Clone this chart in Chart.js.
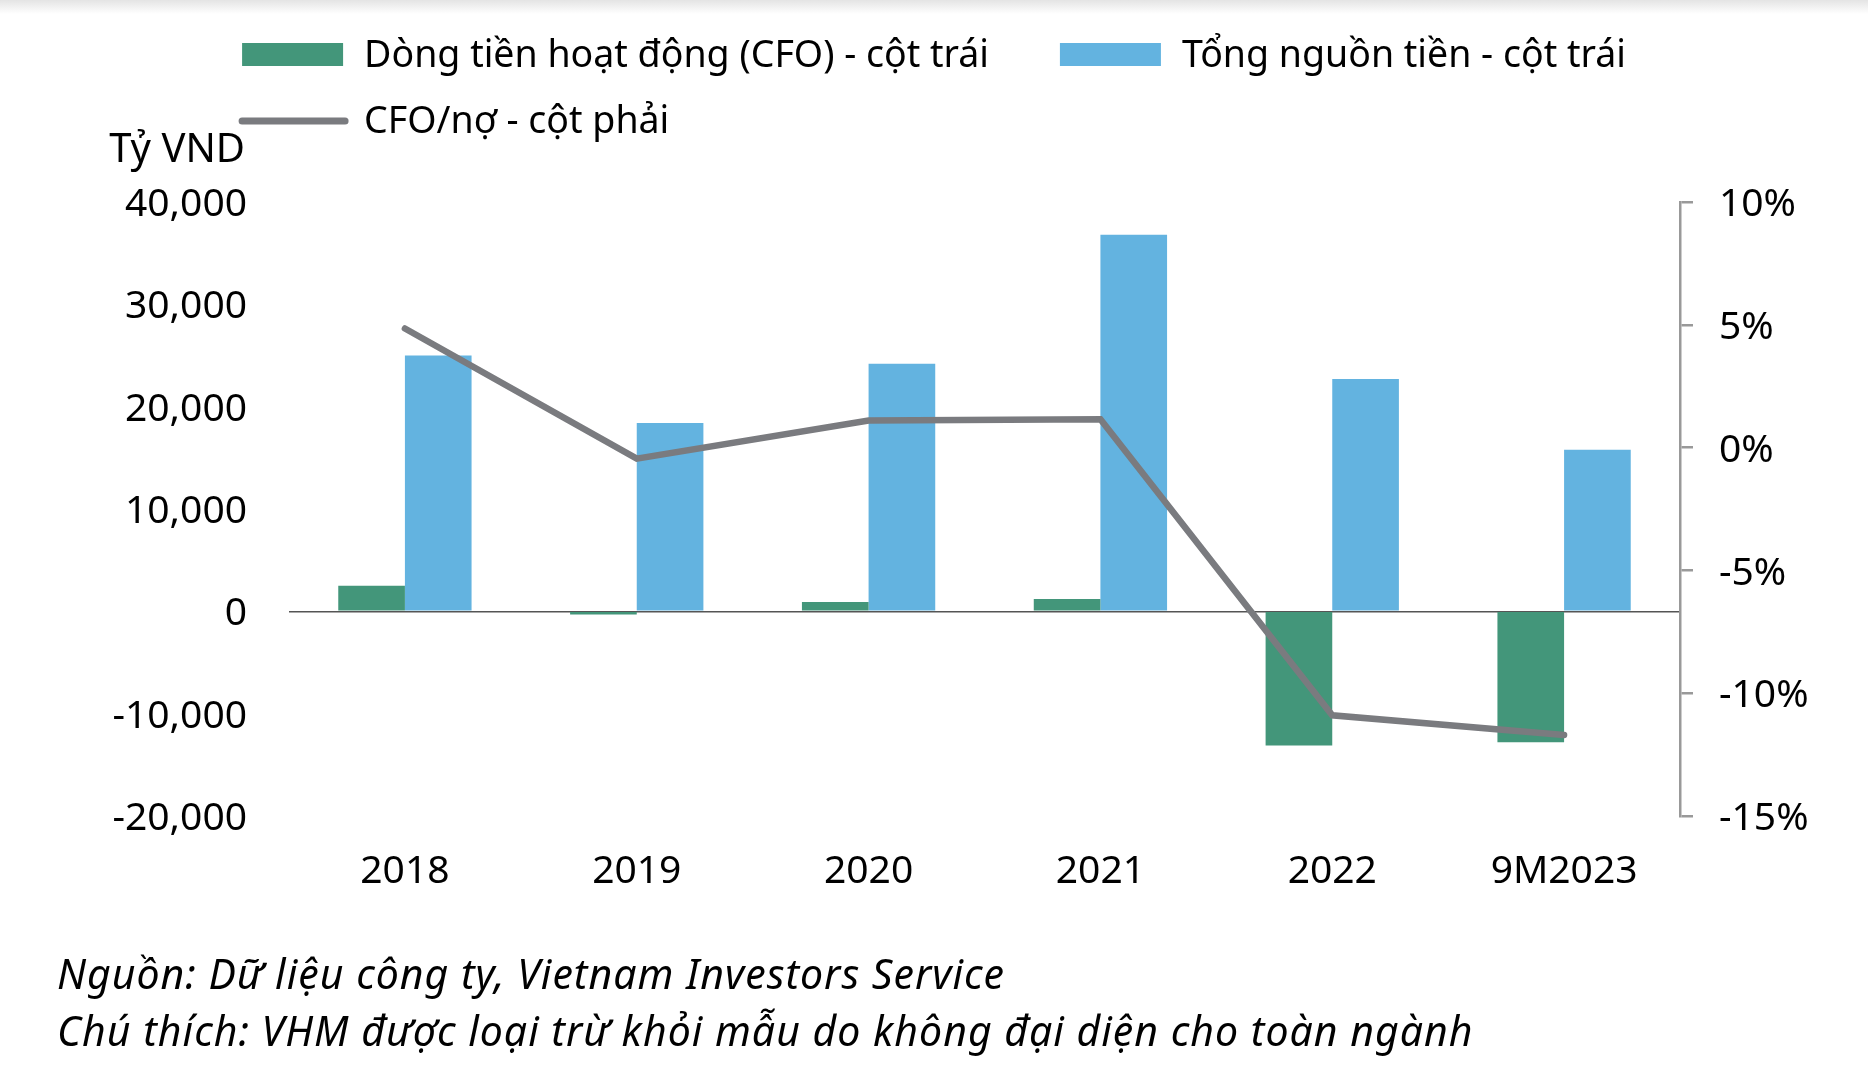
<!DOCTYPE html>
<html>
<head>
<meta charset="utf-8">
<script src="https://cdn.jsdelivr.net/npm/chart.js@4.4.1/dist/chart.umd.min.js"></script>
<style>
  html, body { margin: 0; padding: 0; }
  body {
    width: 1868px; height: 1072px; overflow: hidden; position: relative;
    background: linear-gradient(#e4e4e4 0px, #ffffff 14px);
    font-family: "Noto Sans", sans-serif;
  }
  #chart { position: absolute; left: 0; top: 0; }
  .note {
    position: absolute; left: 57px; font-style: italic; font-size: 41px;
    letter-spacing: 1px; line-height: 57px; color: #000; white-space: nowrap;
  }
</style>
</head>
<body>
<canvas id="chart" width="1868" height="1072"></canvas>
<div class="note" style="top: 945px;">Nguồn: Dữ liệu công ty, Vietnam Investors Service</div>
<div class="note" style="top: 1002px;">Chú thích: VHM được loại trừ khỏi mẫu do không đại diện cho toàn ngành</div>
<script>
const years = ["2018", "2019", "2020", "2021", "2022", "9M2023"];
// tỷ VND
const cfo = [2500, -300, 900, 1200, -13100, -12800];
const totalFunds = [25000, 18400, 24200, 36800, 22700, 15800];
// %
const cfoToDebt = [4.85, -0.45, 1.1, 1.15, -10.9, -11.7];

const GREEN = "#43967a";
const BLUE = "#63b3e0";
const GREY = "#7a7b7f";
const FONT = "Noto Sans";

// legend in two rows: second row starts under the first one
const rowLegend = {
  id: "rowLegend",
  afterDraw(chart) {
    const ctx = chart.ctx;
    const ds = chart.data.datasets;
    const box = 101, gap = 21, itemGap = 71;
    ctx.save();
    ctx.font = "37.5px '" + FONT + "'";
    ctx.textBaseline = "alphabetic";
    ctx.fillStyle = "#000";
    const itemW = (i) => box + gap + ctx.measureText(ds[i].label).width;
    const x0 = (chart.width - (itemW(0) + itemGap + itemW(1))) / 2;
    // row 1
    ctx.fillStyle = ds[0].backgroundColor;
    ctx.fillRect(x0, 43, box, 23);
    ctx.fillStyle = "#000";
    ctx.fillText(ds[0].label, x0 + box + gap, 67);
    const x1 = x0 + itemW(0) + itemGap;
    ctx.fillStyle = ds[1].backgroundColor;
    ctx.fillRect(x1, 43, box, 23);
    ctx.fillStyle = "#000";
    ctx.fillText(ds[1].label, x1 + box + gap, 67);
    // row 2
    ctx.strokeStyle = ds[2].borderColor;
    ctx.lineWidth = 7;
    ctx.lineCap = "round";
    ctx.beginPath();
    ctx.moveTo(x0, 121);
    ctx.lineTo(x0 + 103, 121);
    ctx.stroke();
    ctx.fillText(ds[2].label, x0 + box + gap, 133);
    // unit label
    ctx.font = "40px '" + FONT + "'";
    ctx.textAlign = "right";
    ctx.fillText("Tỷ VND", 245, 162);
    ctx.restore();
  }
};

new Chart(document.getElementById("chart"), {
  type: "bar",
  data: {
    labels: years,
    datasets: [
      {
        label: "Dòng tiền hoạt động (CFO) - cột trái",
        data: cfo,
        backgroundColor: GREEN,
        yAxisID: "y",
        order: 1
      },
      {
        label: "Tổng nguồn tiền - cột trái",
        data: totalFunds,
        backgroundColor: BLUE,
        yAxisID: "y",
        order: 1
      },
      {
        type: "line",
        label: "CFO/nợ - cột phải",
        data: cfoToDebt,
        borderColor: GREY,
        backgroundColor: GREY,
        borderWidth: 6.5,
        borderCapStyle: "round",
        pointRadius: 0,
        tension: 0,
        yAxisID: "y1",
        order: 0
      }
    ]
  },
  options: {
    responsive: false,
    animation: false,
    devicePixelRatio: 1,
    categoryPercentage: 0.575,
    barPercentage: 1,
    layout: {
      padding: { left: 0, right: 0, top: 202, bottom: 0 }
    },
    plugins: {
      legend: { display: false },
      tooltip: { enabled: false }
    },
    scales: {
      x: {
        grid: { display: false },
        border: { display: false },
        afterFit: (s) => { s.height = 256; },
        ticks: {
          color: "#000",
          padding: 24,
          font: { family: FONT, size: 39 }
        }
      },
      y: {
        position: "left",
        min: -20000,
        max: 40000,
        border: { display: false },
        afterFit: (s) => { s.width = 289; },
        grid: {
          drawTicks: false,
          lineWidth: 1.5,
          color: (c) => (c.tick && c.tick.value === 0 ? "#555555" : "rgba(0,0,0,0)")
        },
        ticks: {
          stepSize: 10000,
          color: "#000",
          padding: 42,
          labelOffset: 3,
          font: { family: FONT, size: 39 },
          callback: (v) => v.toLocaleString("en-US")
        }
      },
      y1: {
        position: "right",
        min: -15,
        max: 10,
        border: { display: true, color: "#999999", width: 2.5 },
        afterFit: (s) => { s.width = 188; },
        grid: {
          drawOnChartArea: false,
          drawTicks: true,
          tickLength: 13,
          color: "#999999",
          lineWidth: 2.5
        },
        ticks: {
          stepSize: 5,
          color: "#000",
          padding: 26,
          labelOffset: 3,
          font: { family: FONT, size: 39 },
          callback: (v) => v + "%"
        }
      }
    }
  },
  plugins: [rowLegend]
});
</script>
</body>
</html>
